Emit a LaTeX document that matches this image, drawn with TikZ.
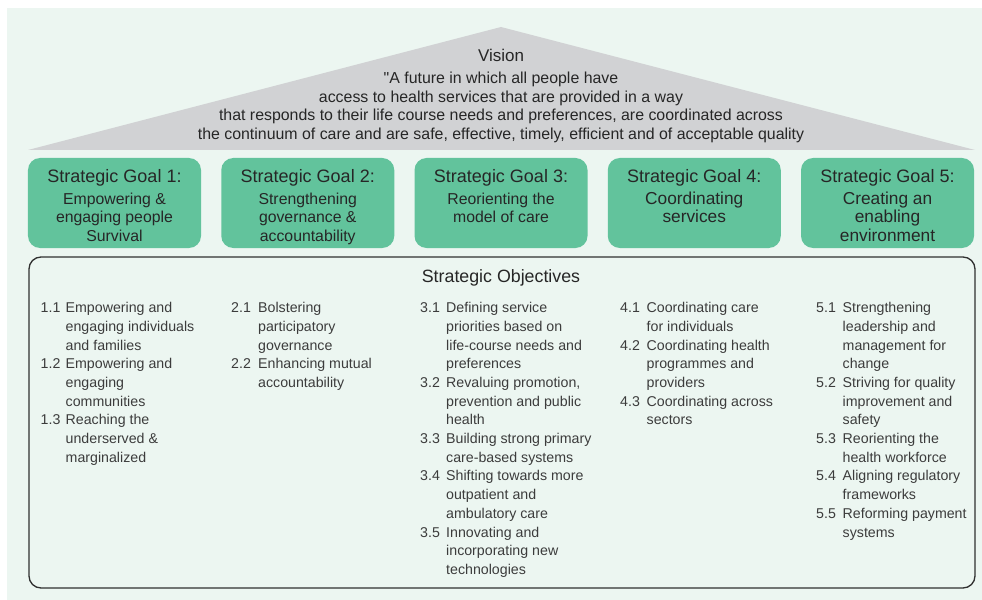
\documentclass[tikz,border=0pt]{standalone}
\usepackage{fontspec}
\setmainfont{Liberation Sans}
\newfontfamily\nomapfont[Ligatures=TeXOff]{Liberation Sans}
\definecolor{bgmint}{HTML}{ECF6F1}
\definecolor{roofgrey}{HTML}{D1D2D4}
\definecolor{goalgreen}{HTML}{62C39C}
\definecolor{txtdark}{HTML}{262626}
\definecolor{txtobj}{HTML}{3C3C3C}
\definecolor{frame}{HTML}{303030}
\newcommand\objitem[6]{%
  \node[objnum] (n#1) at (#2,{299.4+18.7*#4}) {\strut #5};
  \node[objtxt] (t#1) at (#3,{299.4+18.7*#4}) {\strut #6};}
\begin{document}
\begin{tikzpicture}[x=1bp,y=-1bp,
  goalbox/.style={rectangle,rounded corners=12bp,fill=goalgreen,draw=none,
    minimum width=173bp,minimum height=90bp,inner sep=0pt},
  goaltitle/.style={inner sep=0pt,anchor=base,text=txtdark,
    font=\fontsize{18bp}{21bp}\selectfont},
  goalsub/.style={inner sep=0pt,anchor=north,align=center,text=txtdark,
    font=\fontsize{15.8bp}{18.6bp}\selectfont},
  goalsubL/.style={inner sep=0pt,anchor=north,align=center,text=txtdark,
    font=\fontsize{17.3bp}{18.6bp}\selectfont},
  objnum/.style={inner sep=0pt,anchor=north west,text=txtobj,
    font=\fontsize{14.2bp}{18.7bp}\selectfont},
  objtxt/.style={inner sep=0pt,anchor=north west,align=left,text=txtobj,
    font=\fontsize{14.2bp}{18.7bp}\selectfont},
  objframe/.style={draw=frame,line width=1.3bp,rounded corners=12bp}]
\useasboundingbox (0,0) rectangle (982,600);
\fill[bgmint] (7,8) rectangle (982,600);
% roof
\fill[roofgrey] (28,150) -- (501,27) -- (975,150) -- cycle;
\node[inner sep=0pt,anchor=base,text=txtdark,font=\fontsize{17bp}{20bp}\selectfont] (vis) at (501,61.7) {Vision};
\node[inner sep=0pt,anchor=north,align=center,text=txtdark,font=\fontsize{15.9bp}{18.6bp}\selectfont] (vistxt) at (501,70.3)
  {\strut{\nomapfont"}A future in which all people have\\
   access to health services that are provided in a way\\
   that responds to their life course needs and preferences, are coordinated across\\
   the continuum of care and are safe, effective, timely, efficient and of acceptable quality};
% goal boxes
\node[goalbox] (g1) at (114.5,203) {};
\node[goalbox] (g2) at (307.75,203) {};
\node[goalbox] (g3) at (501,203) {};
\node[goalbox] (g4) at (694.25,203) {};
\node[goalbox] (g5) at (887.5,203) {};
\node[goaltitle] (g1a) at (114.5,183) {Strategic Goal 1:};
\node[goaltitle] (g2a) at (307.75,183) {Strategic Goal 2:};
\node[goaltitle] (g3a) at (501,183) {Strategic Goal 3:};
\node[goaltitle] (g4a) at (694.25,183) {Strategic Goal 4:};
\node[goaltitle] (g5a) at (887.5,183) {Strategic Goal 5:};
\node[goalsub] (g1b) at (114.5,190.98) {\strut Empowering \&\\engaging people\\Survival};
\node[goalsub] (g2b) at (307.75,190.98) {\strut Strengthening\\governance \&\\accountability};
\node[goalsub] (g3b) at (501,190.98) {\strut Reorienting the\\model of care};
\node[goalsubL] (g4b) at (694.25,190.98) {\strut Coordinating\\services};
\node[goalsubL] (g5b) at (887.5,190.98) {\strut Creating an\\enabling\\environment};
% objectives frame
\draw[objframe] (29,257) rectangle (975,588);
\node[inner sep=0pt,anchor=base,text=txtdark,font=\fontsize{17.8bp}{21bp}\selectfont] (otitle) at (501,282.5) {Strategic Objectives};
% column 1
\objitem{11}{40.5}{65.5}{0}{1.1}{Empowering and\\engaging individuals\\and families}
\objitem{12}{40.5}{65.5}{3}{1.2}{Empowering and\\engaging\\communities}
\objitem{13}{40.5}{65.5}{6}{1.3}{Reaching the\\underserved \&\\marginalized}
% column 2
\objitem{21}{231}{258}{0}{2.1}{Bolstering\\participatory\\governance}
\objitem{22}{231}{258}{3}{2.2}{Enhancing mutual\\accountability}
% column 3
\objitem{31}{420}{446}{0}{3.1}{Defining service\\priorities based on\\life-course needs and\\preferences}
\objitem{32}{420}{446}{4}{3.2}{Revaluing promotion,\\prevention and public\\health}
\objitem{33}{420}{446}{7}{3.3}{Building strong primary\\care-based systems}
\objitem{34}{420}{446}{9}{3.4}{Shifting towards more\\outpatient and\\ambulatory care}
\objitem{35}{420}{446}{12}{3.5}{Innovating and\\incorporating new\\technologies}
% column 4
\objitem{41}{620}{646.5}{0}{4.1}{Coordinating care\\for individuals}
\objitem{42}{620}{646.5}{2}{4.2}{Coordinating health\\programmes and\\providers}
\objitem{43}{620}{646.5}{5}{4.3}{Coordinating across\\sectors}
% column 5
\objitem{51}{816}{842.5}{0}{5.1}{Strengthening\\leadership and\\management for\\change}
\objitem{52}{816}{842.5}{4}{5.2}{Striving for quality\\improvement and\\safety}
\objitem{53}{816}{842.5}{7}{5.3}{Reorienting the\\health workforce}
\objitem{54}{816}{842.5}{9}{5.4}{Aligning regulatory\\frameworks}
\objitem{55}{816}{842.5}{11}{5.5}{Reforming payment\\systems}
\end{tikzpicture}
\end{document}
